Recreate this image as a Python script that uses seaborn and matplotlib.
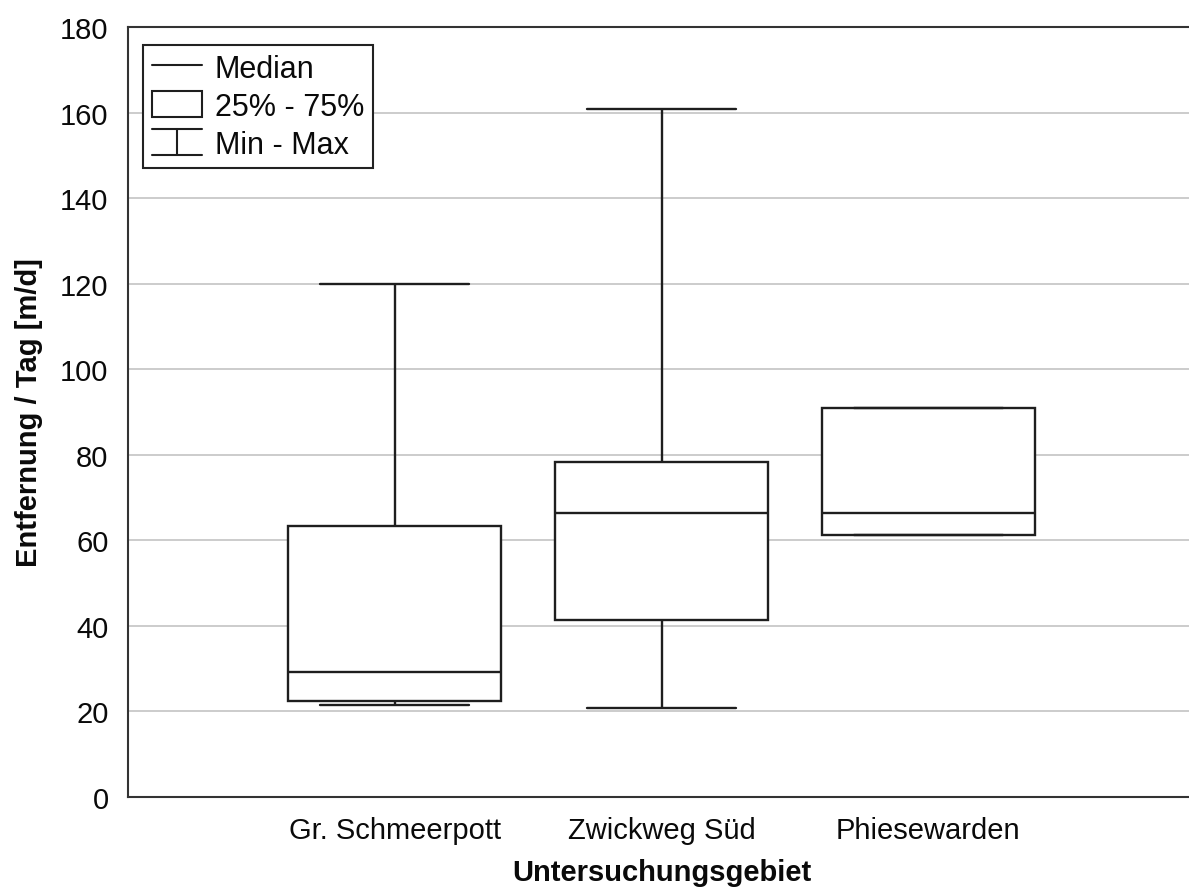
import matplotlib
matplotlib.use("Agg")
import matplotlib.pyplot as plt
import seaborn as sns
import pandas as pd
from matplotlib.legend_handler import HandlerBase
from matplotlib.lines import Line2D
from matplotlib.patches import Rectangle

# ---- data ----
categories = ["Gr. Schmeerpott", "Zwickweg Süd", "Phiesewarden"]
mins = [21.6, 20.8, 61.2]
q1s = [22.5, 41.3, 61.2]
medians = [29.3, 66.3, 66.5]
q3s = [63.4, 78.4, 91.0]
maxs = [120.0, 160.8, 91.0]
yticks = [0, 20, 40, 60, 80, 100, 120, 140, 160, 180]
xlabel = "Untersuchungsgebiet"
ylabel = "Entfernung / Tag [m/d]"
legend_labels = ["Median", "25% - 75%", "Min - Max"]

# five-number summaries -> data whose percentiles reproduce them exactly
rows = []
for cat, a, b, c, d, e in zip(categories, mins, q1s, medians, q3s, maxs):
    for v in (a, b, c, d, e):
        rows.append({"Gebiet": cat, "Wert": v})
df = pd.DataFrame(rows)

sns.set_style("white")
plt.rcParams['font.family'] = ['Liberation Sans', 'DejaVu Sans']

LC = "#1e1e1e"
TC = "#0a0a0a"
fig = plt.figure(figsize=(11.89, 8.95), dpi=100)
ax = fig.add_axes([128 / 1189, 97 / 895, 1067 / 1189, 770 / 895])

sns.boxplot(data=df, x="Gebiet", y="Wert", order=categories, whis=(0, 100),
            width=0.8, color="white", linecolor=LC, linewidth=1.7,
            showfliers=False, ax=ax, capwidths=0.56)

ax.set_xlim(-1, 3)
ax.set_ylim(0, 180)
ax.set_yticks(yticks)
ax.yaxis.grid(True, color="#c4c4c4", linewidth=1.2)
ax.xaxis.grid(False)
ax.set_axisbelow(True)

for s in ax.spines.values():
    s.set_color("#333333")
    s.set_linewidth(1.5)
ax.spines["right"].set_visible(False)

ax.tick_params(axis="y", direction="in", length=5, width=1, color="#333333",
               labelsize=21, pad=14, labelcolor=TC)
ax.tick_params(axis="x", direction="in", length=4, width=1, color="#333333",
               labelsize=21, pad=14, labelcolor=TC)

ax.set_xlabel(xlabel, fontsize=21, fontweight="bold", labelpad=10, color=TC)
ax.set_ylabel(ylabel, fontsize=21, fontweight="bold", labelpad=12, color=TC)


class HandlerMinMax(HandlerBase):
    def create_artists(self, legend, orig_handle, xdescent, ydescent,
                       width, height, fontsize, trans):
        x0, x1 = -xdescent, -xdescent + width
        xm = (x0 + x1) / 2
        y0, y1 = -ydescent, -ydescent + height
        kw = dict(color=LC, linewidth=1.5, transform=trans)
        return [Line2D([x0, x1], [y1, y1], **kw),
                Line2D([x0, x1], [y0, y0], **kw),
                Line2D([xm, xm], [y0, y1], **kw)]


class MinMaxProxy:
    pass


h_med = Line2D([], [], color=LC, linewidth=1.5)
h_box = Rectangle((0, 0), 1, 1, facecolor="white", edgecolor=LC, linewidth=1.5)
h_mm = MinMaxProxy()
leg = ax.legend([h_med, h_box, h_mm], legend_labels,
                handler_map={MinMaxProxy: HandlerMinMax()},
                loc="upper left", bbox_to_anchor=(15 / 1067, 1 - 18 / 770),
                fontsize=22, frameon=True, fancybox=False,
                edgecolor="#222222", framealpha=1, borderpad=0.28,
                handlelength=1.65, handleheight=0.9, handletextpad=0.42,
                labelspacing=0.25, borderaxespad=0)
leg.get_frame().set_linewidth(1.5)
for t in leg.get_texts():
    t.set_color(TC)

fig.savefig("out.png", dpi=100)
